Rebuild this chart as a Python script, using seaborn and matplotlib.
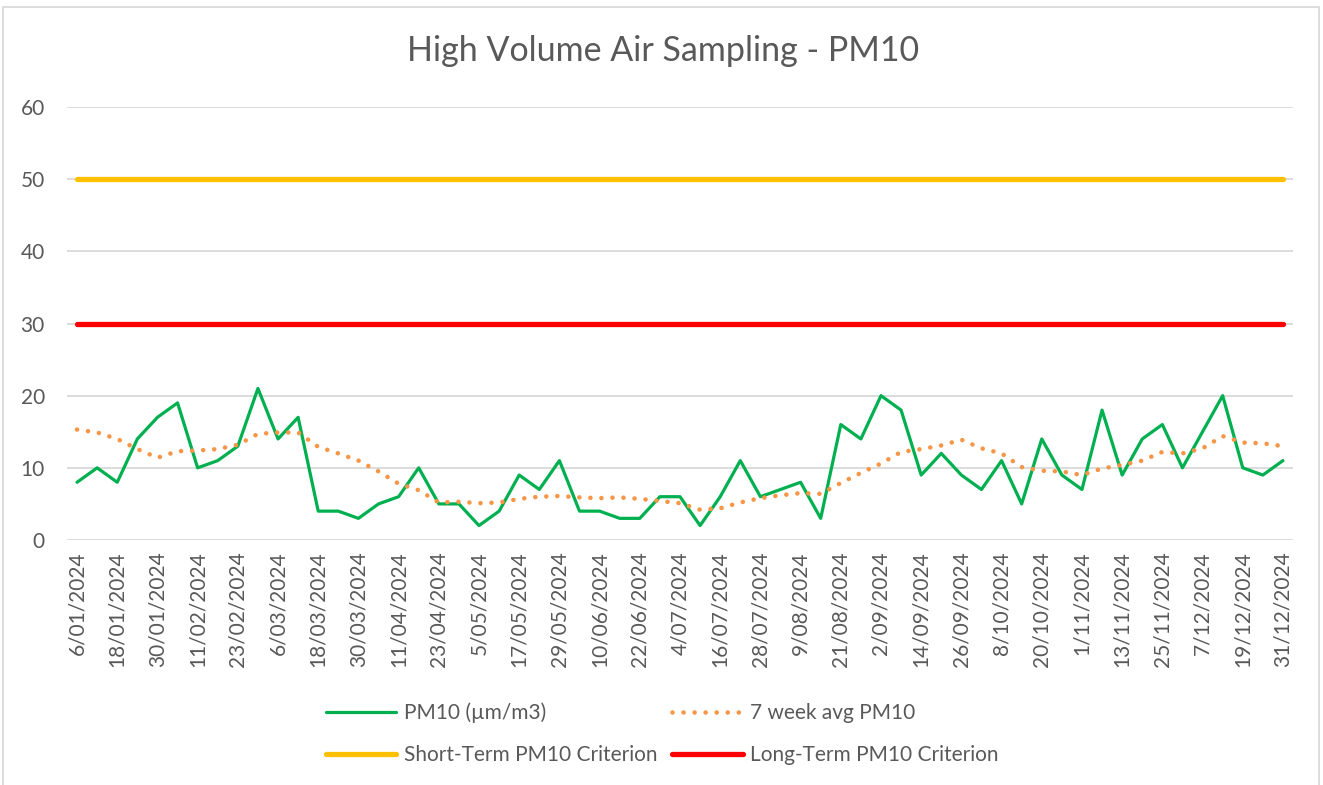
import pandas as pd
import matplotlib.pyplot as plt
import matplotlib.patches as mpatches
import seaborn as sns

# Dados (amostragem a cada 6 dias)
datas = pd.date_range("2024-01-06", "2024-12-31", freq="6D")
pm10 = [8, 10, 8, 14, 17, 19, 10, 11, 13, 21, 14, 17, 4, 4, 3, 5, 6, 10, 5, 5,
        2, 4, 9, 7, 11, 4, 4, 3, 3, 6, 6, 2, 6, 11, 6, 7, 8, 3, 16, 14,
        20, 18, 9, 12, 9, 7, 11, 5, 14, 9, 7, 18, 9, 14, 16, 10, 15, 20, 10, 9, 11]
media_7sem = [15.3, 14.9, 14.0, 12.6, 11.4, 12.3, 12.4, 12.6, 13.2, 14.7,
              14.9, 14.9, 12.9, 12.0, 11.0, 9.5, 7.8, 6.9, 5.2, 5.3,
              5.1, 5.2, 5.7, 6.0, 6.1, 5.9, 5.8, 5.9, 5.7, 5.4,
              5.1, 4.2, 4.4, 5.2, 5.8, 6.2, 6.5, 6.4, 7.9, 9.3,
              10.6, 12.2, 12.6, 13.1, 13.9, 12.7, 12.0, 10.1, 9.6, 9.5,
              9.0, 9.9, 10.4, 11.0, 12.2, 12.0, 12.7, 14.4, 13.5, 13.4, 13.0]
criterio_curto = [50] * len(datas)
criterio_longo = [30] * len(datas)
rotulos = [f"{d.day}/{d.month:02d}/{d.year}" for d in datas]

df = pd.DataFrame({
    "idx": range(len(datas)),
    "pm10": pm10,
    "media": media_7sem,
    "curto": criterio_curto,
    "longo": criterio_longo,
})

sns.set_style("white")
plt.rcParams["font.family"] = ["Lato", "DejaVu Sans"]
cinza = "#595959"

fig = plt.figure(figsize=(13.23, 7.85), dpi=100)
ax = fig.add_axes([67 / 1323, 1 - 540 / 785, 1226 / 1323, 433 / 785])

sns.lineplot(data=df, x="idx", y="pm10", ax=ax, color="#00B050", linewidth=2.3,
             label="PM10 (µm/m3)")
sns.lineplot(data=df, x="idx", y="media", ax=ax, color="#F79646", linewidth=3.3,
             linestyle=(0, (0.01, 2.4)), dash_capstyle="round",
             label="7 week avg PM10")
sns.lineplot(data=df, x="idx", y="curto", ax=ax, color="#FFC000", linewidth=3.8,
             solid_capstyle="round", label="Short-Term PM10 Criterion")
sns.lineplot(data=df, x="idx", y="longo", ax=ax, color="#FF0000", linewidth=3.8,
             solid_capstyle="round", label="Long-Term PM10 Criterion")

ax.set_xlim(-0.5, len(datas) - 0.5)
ax.set_ylim(0, 60)
ax.set_yticks(range(0, 61, 10))
ax.set_xticks(range(0, len(datas), 2))
ax.set_xticklabels(rotulos[::2], rotation=90)
ax.tick_params(axis="x", length=0, pad=8, labelsize=15, labelcolor=cinza)
ax.tick_params(axis="y", length=0, pad=16, labelsize=15, labelcolor=cinza)
ax.grid(axis="y", color="#D9D9D9", linewidth=1.3)
ax.set_axisbelow(True)
for s in ax.spines.values():
    s.set_visible(False)
ax.set_xlabel("")
ax.set_ylabel("")

fig.text(0.501, 1 - 51 / 785, "High Volume Air Sampling - PM10", ha="center",
         va="center", fontsize=24.5, color=cinza)

h, l = ax.get_legend_handles_labels()
ordem = [0, 2, 1, 3]
ax.legend([h[i] for i in ordem], [l[i] for i in ordem], ncol=2,
          loc="center", bbox_to_anchor=(662 / 1323, 1 - 734 / 785),
          bbox_transform=fig.transFigure, frameon=False, fontsize=15,
          labelcolor=cinza, handlelength=3.4, handletextpad=0.35,
          columnspacing=0.7, labelspacing=1.05)

# moldura do gráfico
fig.patches.append(mpatches.Rectangle((3 / 1323, -0.01), 1316 / 1323, 1 - 7 / 785 + 0.01,
                                      transform=fig.transFigure, fill=False,
                                      edgecolor="#D9D9D9", linewidth=1.3))

plt.savefig("out.png", dpi=100)
plt.close()
